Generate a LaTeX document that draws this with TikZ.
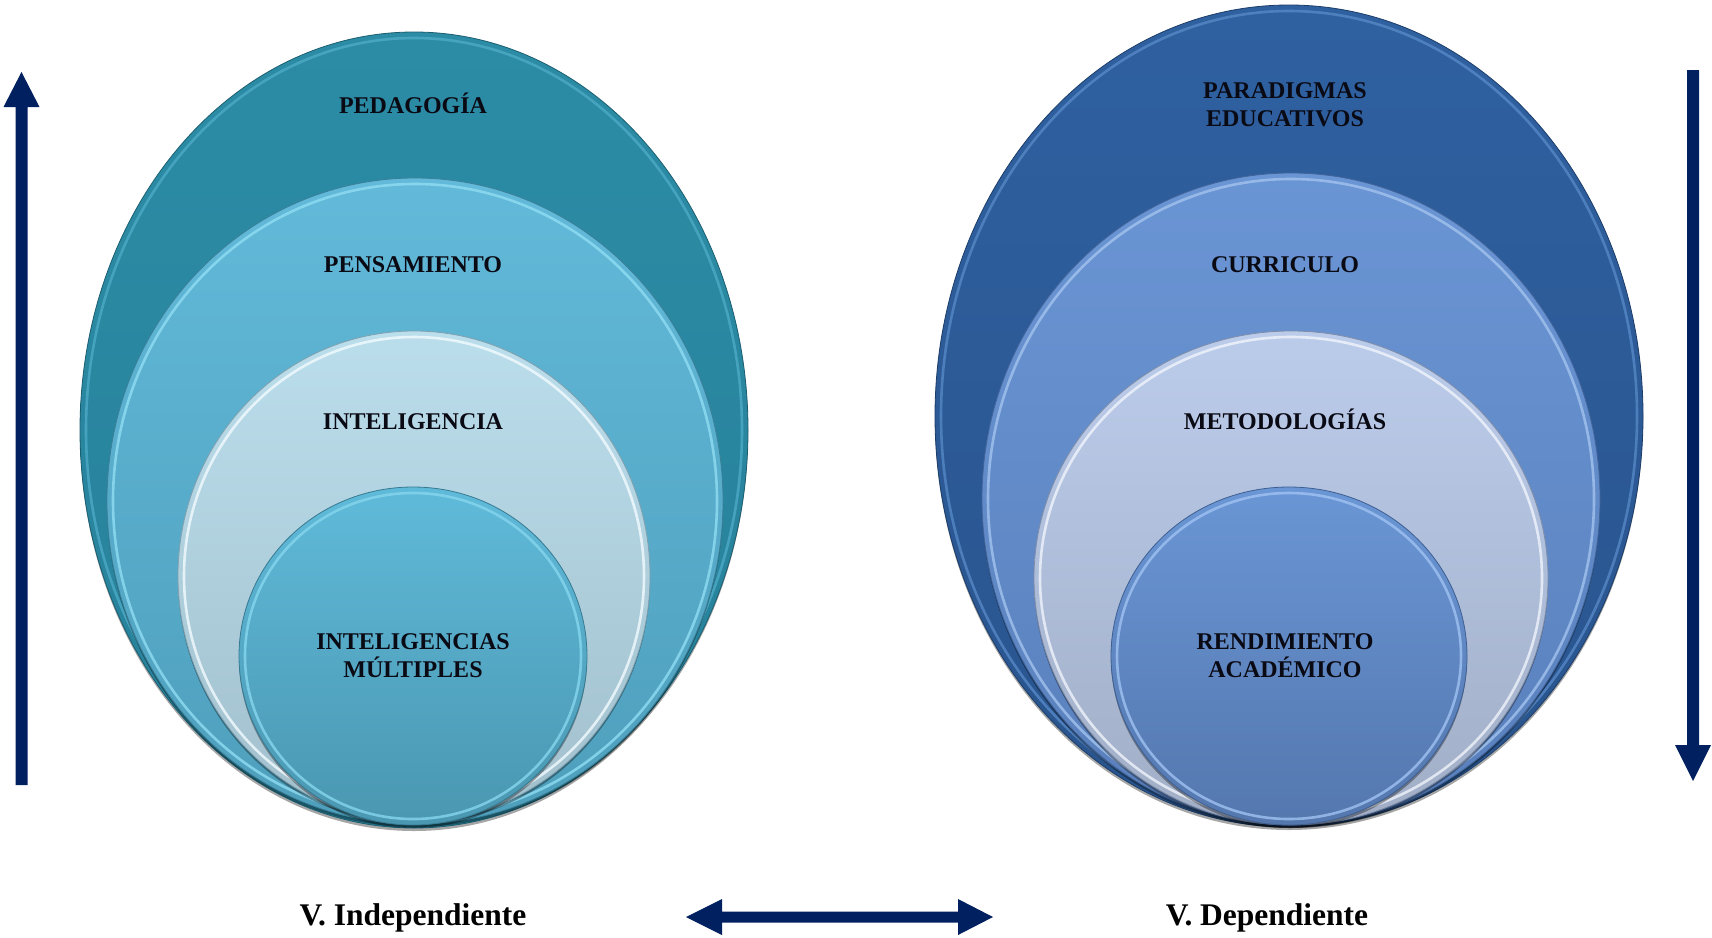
\documentclass[tikz,border=0pt]{standalone}
\usepackage{fontspec}
\setmainfont{Liberation Serif}
\usetikzlibrary{shapes.geometric,shadows}
\definecolor{navy}{HTML}{002060}
\definecolor{txt}{HTML}{0A0A14}
% left group
\definecolor{lAt}{HTML}{2C8CA5}\definecolor{lAb}{HTML}{27809A}\definecolor{lAd}{HTML}{1B5E70}\definecolor{lAr}{HTML}{4DAAC6}
\definecolor{lBt}{HTML}{62B9D9}\definecolor{lBb}{HTML}{4E9FBC}\definecolor{lBd}{HTML}{3A7F98}\definecolor{lBr}{HTML}{8FDDF3}
\definecolor{lCt}{HTML}{BBDEEC}\definecolor{lCb}{HTML}{A2BFCC}\definecolor{lCd}{HTML}{7FA0AF}\definecolor{lCr}{HTML}{F2FBFE}
\definecolor{lDt}{HTML}{5FBAD9}\definecolor{lDb}{HTML}{4A97B1}\definecolor{lDd}{HTML}{377A92}\definecolor{lDr}{HTML}{86D6EE}
% right group
\definecolor{rAt}{HTML}{2F60A0}\definecolor{rAb}{HTML}{29548D}\definecolor{rAd}{HTML}{1C3D68}\definecolor{rAr}{HTML}{5688C6}
\definecolor{rBt}{HTML}{6A95D4}\definecolor{rBb}{HTML}{5980BC}\definecolor{rBd}{HTML}{41649A}\definecolor{rBr}{HTML}{A3C3EE}
\definecolor{rCt}{HTML}{BBCCEB}\definecolor{rCb}{HTML}{A1AEC6}\definecolor{rCd}{HTML}{7F8DA8}\definecolor{rCr}{HTML}{F0F4FB}
\definecolor{rDt}{HTML}{6A96D5}\definecolor{rDb}{HTML}{5477AE}\definecolor{rDd}{HTML}{3E5F92}\definecolor{rDr}{HTML}{A0C2F2}
\begin{document}
\begin{tikzpicture}[x=1pt,y=-1pt,
  blob/.style={ellipse, inner sep=0pt, line width=0.8pt,
    drop shadow={shadow xshift=0pt, shadow yshift=-3pt, opacity=.35, fill=black}},
  ring/.style={line width=2.6pt, opacity=.8},
  lbl/.style={font=\fontsize{24}{28}\selectfont\bfseries, align=center, text=txt, inner sep=0pt},
  capt/.style={font=\fontsize{31.5}{36}\selectfont\bfseries, text=black, inner sep=0pt, anchor=base},
  blockarrow/.style={fill=navy}]
\useasboundingbox (0,0) rectangle (1712,937);
\fill[white] (0,0) rectangle (1712,937);

% ---------- left group ----------
\node[blob, minimum width=668pt, minimum height=796pt, draw=lAd, top color=lAt, bottom color=lAb] (ped) at (414,430) {};
\draw[ring, lAr] (ped.center) ellipse [x radius=328pt, y radius=392pt];
\node[blob, minimum width=616pt, minimum height=646pt, draw=lBd, top color=lBt, bottom color=lBb] (pen) at (415,501) {};
\draw[ring, lBr] (pen.center) ellipse [x radius=302pt, y radius=317pt];
\node[blob, minimum width=472pt, minimum height=490pt, draw=lCd, top color=lCt, bottom color=lCb] (int) at (414,576) {};
\draw[ring, lCr] (int.center) ellipse [x radius=230pt, y radius=239pt];
\node[blob, minimum width=348pt, minimum height=338pt, draw=lDd, top color=lDt, bottom color=lDb] (mul) at (413,656) {};
\draw[ring, lDr] (mul.center) ellipse [x radius=168pt, y radius=163pt];

\node[lbl, anchor=base] (tped) at (413,113) {PEDAGOGÍA};
\node[lbl, anchor=base] (tpen) at (413,272) {PENSAMIENTO};
\node[lbl, anchor=base] (tint) at (413,429) {INTELIGENCIA};
\node[lbl] (tmul) at (413,656) {INTELIGENCIAS\\MÚLTIPLES};

% ---------- right group ----------
\node[blob, minimum width=708pt, minimum height=822pt, draw=rAd, top color=rAt, bottom color=rAb] (par) at (1289,416) {};
\draw[ring, rAr] (par.center) ellipse [x radius=348pt, y radius=405pt];
\node[blob, minimum width=618pt, minimum height=652pt, draw=rBd, top color=rBt, bottom color=rBb] (cur) at (1291,499) {};
\draw[ring, rBr] (cur.center) ellipse [x radius=303pt, y radius=320pt];
\node[blob, minimum width=514pt, minimum height=494pt, draw=rCd, top color=rCt, bottom color=rCb] (met) at (1291,578) {};
\draw[ring, rCr] (met.center) ellipse [x radius=251pt, y radius=241pt];
\node[blob, minimum width=356pt, minimum height=338pt, draw=rDd, top color=rDt, bottom color=rDb] (ren) at (1289,656) {};
\draw[ring, rDr] (ren.center) ellipse [x radius=172pt, y radius=163pt];

\node[lbl] (tpar) at (1285,105) {PARADIGMAS\\EDUCATIVOS};
\node[lbl, anchor=base] (tcur) at (1285,272) {CURRICULO};
\node[lbl, anchor=base] (tmet) at (1285,429) {METODOLOGÍAS};
\node[lbl] (tren) at (1285,656) {RENDIMIENTO\\ACADÉMICO};

% ---------- arrows ----------
\fill[blockarrow] (15.5,785) -- (15.5,107) -- (3.5,107) -- (21.5,72) -- (39.5,107) -- (27.5,107) -- (27.5,785) -- cycle;
\fill[blockarrow] (1687,70) -- (1687,745) -- (1675,745) -- (1693,781) -- (1711,745) -- (1699,745) -- (1699,70) -- cycle;
\fill[blockarrow] (686,917) -- (722,899) -- (722,911.5) -- (958,911.5) -- (958,899) -- (993,917) -- (958,935) -- (958,922.5) -- (722,922.5) -- (722,935) -- cycle;

% ---------- captions ----------
\node[capt] (vind) at (413,925) {V. Independiente};
\node[capt] (vdep) at (1267,925) {V. Dependiente};
\end{tikzpicture}
\end{document}
